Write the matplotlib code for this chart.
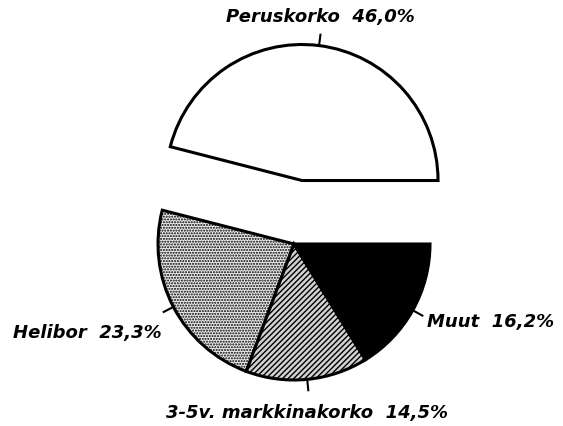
import numpy as np
import matplotlib.pyplot as plt

# pie data (Finnish labels, percentages)
labels = ["Peruskorko", "Helibor", "3-5v. markkinakorko", "Muut"]
shares = [46.0, 23.3, 14.5, 16.2]
pct_text = ["46,0%", "23,3%", "14,5%", "16,2%"]

faces = ["white", "#ebebeb", "#d2d2d2", "black"]
hatches = [None, "......", "//////", None]

# label anchor positions in pixel space (image y downwards)
label_pos = [(320, 17), (87, 333), (307, 413), (491, 322)]

W, H = 563, 427
fig = plt.figure(figsize=(W / 100, H / 100), dpi=100)
ax = fig.add_axes([0, 0, 1, 1])

plt.rcParams["hatch.linewidth"] = 1.0

cx, cy, R = 294, H - 245, 136
# explode offset is in data units here (pixels)
explode = [64, 0, 0, 0]
wedges, _ = ax.pie(
    shares,
    explode=explode,
    startangle=0,
    counterclock=True,
    center=(cx, cy),
    radius=R,
    colors=faces,
    wedgeprops=dict(edgecolor="black", linewidth=2.2),
)
for w, h in zip(wedges, hatches):
    if h:
        w.set_hatch(h)

# short leader ticks at the middle of each wedge
for w in wedges:
    mid = np.deg2rad((w.theta1 + w.theta2) / 2)
    x0, y0 = w.center
    r0, r1 = w.r, w.r + 12
    ax.plot([x0 + r0 * np.cos(mid), x0 + r1 * np.cos(mid)],
            [y0 + r0 * np.sin(mid), y0 + r1 * np.sin(mid)],
            color="black", lw=1.5, solid_capstyle="butt")

for lab, p, (x, y) in zip(labels, pct_text, label_pos):
    ax.text(x, H - y, lab + "  " + p, ha="center", va="center",
            fontsize=13, fontweight="heavy", fontstyle="italic",
            family="DejaVu Sans")

ax.set_xlim(0, W)
ax.set_ylim(0, H)
ax.set_aspect("equal")
ax.axis("off")

fig.savefig("out.png", dpi=100)
